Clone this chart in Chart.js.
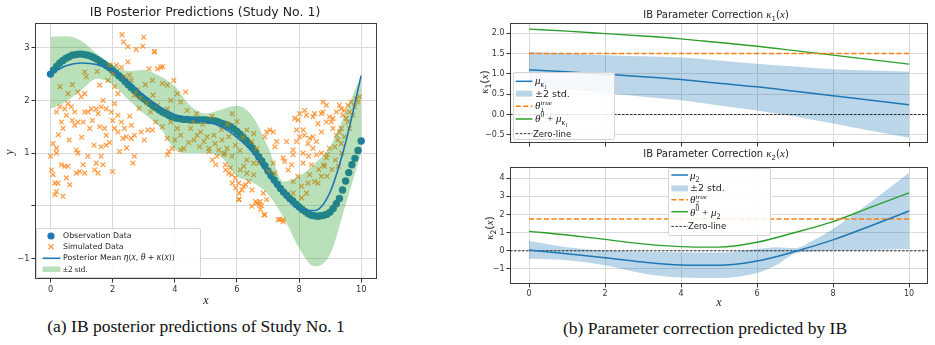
<!DOCTYPE html>
<html>
<head>
<meta charset="utf-8">
<title>IB posterior predictions and parameter correction</title>
<script src="https://cdn.jsdelivr.net/npm/chart.js@4.4.1/dist/chart.umd.min.js"></script>
<style>
  body { margin:0; background:#fff; }
  #wrap { position:relative; width:935px; height:345px; overflow:hidden; font-family:"DejaVu Sans",sans-serif; color:#222; background:#fff; }
  canvas { position:absolute; }
  .ttl { position:absolute; white-space:nowrap; transform:translateX(-50%); color:#222; }
  .m { font-family:"Liberation Serif",serif; font-style:italic; }
  .rot { position:absolute; white-space:nowrap; transform:translate(-50%,-50%) rotate(-90deg); }
  .cap { position:absolute; font-family:"Liberation Serif",serif; font-size:17.5px; white-space:nowrap; transform:translateX(-50%); color:#111; }
  .leg { position:absolute; background:rgba(255,255,255,0.85); border:1px solid #d4d4d4; border-radius:2px; }
  .leg svg { position:absolute; left:0; top:0; }
  .row { position:absolute; white-space:nowrap; transform:translateY(-50%); line-height:1; }
  sub, sup { font-size:70%; line-height:0; }
</style>
</head>
<body>
<div id="wrap">
  <canvas id="cA" width="382" height="300" style="left:0;top:0"></canvas>
  <canvas id="cB" width="462" height="150" style="left:470px;top:0"></canvas>
  <canvas id="cC" width="462" height="150" style="left:470px;top:160px"></canvas>

  <div class="ttl" style="left:205px;top:4px;font-size:12.5px">IB Posterior Predictions (Study No. 1)</div>
  <div class="ttl" style="left:716px;top:8px;font-size:10px">IB Parameter Correction <span class="m" style="font-size:11px">κ</span><sub>1</sub>(<span class="m" style="font-size:11px">x</span>)</div>
  <div class="ttl" style="left:716px;top:147px;font-size:10px">IB Parameter Correction <span class="m" style="font-size:11px">κ</span><sub>2</sub>(<span class="m" style="font-size:11px">x</span>)</div>

  <div class="ttl m" style="left:206px;top:293px;font-size:12px">x</div>
  <div class="rot m" style="left:9px;top:152px;font-size:12px">y</div>
  <div class="ttl m" style="left:719px;top:295px;font-size:12px">x</div>
  <div class="rot" style="left:484px;top:82px;font-size:11px"><span class="m">κ</span><sub>1</sub>(<span class="m">x</span>)</div>
  <div class="rot" style="left:489px;top:228px;font-size:11px"><span class="m">κ</span><sub>2</sub>(<span class="m">x</span>)</div>

  <div class="cap" style="left:196px;top:316px">(a) IB posterior predictions of Study No. 1</div>
  <div class="cap" style="left:705px;top:318px">(b) Parameter correction predicted by IB</div>

  <div class="leg" style="left:36px;top:228px;width:163px;height:48px;font-size:7.8px">
    <svg width="30" height="48">
      <circle cx="14" cy="7" r="3.6" fill="#1f77b4"/>
      <path d="M11.5 15.2 L16.5 20.2 M16.5 15.2 L11.5 20.2" stroke="rgba(255,127,14,0.8)" stroke-width="1.3"/>
      <line x1="5.5" y1="29.3" x2="23.5" y2="29.3" stroke="#1f77b4" stroke-width="1.6"/>
      <rect x="5.5" y="37.5" width="18" height="5.5" fill="rgba(44,160,44,0.33)"/>
    </svg>
    <div class="row" style="left:26px;top:7px">Observation Data</div>
    <div class="row" style="left:26px;top:17.7px">Simulated Data</div>
    <div class="row" style="left:26px;top:29.3px">Posterior Mean <span class="m" style="font-size:9.5px">η</span>(<span class="m" style="font-size:9.5px">x</span>, <span class="m" style="font-size:9.5px">θ</span> + <span class="m" style="font-size:9.5px">κ</span>(<span class="m" style="font-size:9.5px">x</span>))</div>
    <div class="row" style="left:26px;top:40.3px;font-family:'Liberation Serif',serif;font-size:9px">±2 std.</div>
  </div>

  <div class="leg" style="left:513px;top:72px;width:100px;height:66px;font-size:8.5px">
    <svg width="22" height="66">
      <line x1="1.7" y1="8.3" x2="18.4" y2="8.3" stroke="#1f77b4" stroke-width="1.5"/>
      <rect x="1.7" y="17.6" width="16.7" height="6" fill="rgba(31,119,180,0.3)"/>
      <line x1="1.7" y1="33.3" x2="18.4" y2="33.3" stroke="#ff7f0e" stroke-width="1.5" stroke-dasharray="5,2.5"/>
      <line x1="1.7" y1="46" x2="18.4" y2="46" stroke="#2ca02c" stroke-width="1.5"/>
      <line x1="1.7" y1="60.6" x2="18.4" y2="60.6" stroke="#000" stroke-width="0.8" stroke-dasharray="2.5,1.5"/>
    </svg>
    <div class="row m" style="left:21px;top:8.3px;font-size:11px">μ<sub>κ<sub>1</sub></sub></div>
    <div class="row" style="left:21px;top:20.6px;font-size:9.5px">±2 std.</div>
    <div class="row m" style="left:21px;top:33.3px;font-size:11px">θ<span style="display:inline-block;vertical-align:middle;line-height:0.9;font-size:65%"><span style="display:block">true</span><span style="display:block;font-style:normal">1</span></span></div>
    <div class="row m" style="left:21px;top:46px;font-size:11px">θ<sup style="font-style:normal">0</sup> <span style="font-style:normal">+</span> μ<sub>κ<sub>1</sub></sub></div>
    <div class="row" style="left:19px;top:60.6px">Zero-line</div>
  </div>

  <div class="leg" style="left:668px;top:168px;width:101px;height:66px;font-size:8.5px">
    <svg width="22" height="66">
      <line x1="2.4" y1="6" x2="19" y2="6" stroke="#1f77b4" stroke-width="1.5"/>
      <rect x="2.4" y="16.4" width="16.6" height="6" fill="rgba(31,119,180,0.3)"/>
      <line x1="2.4" y1="30.7" x2="19" y2="30.7" stroke="#ff7f0e" stroke-width="1.5" stroke-dasharray="5,2.5"/>
      <line x1="2.4" y1="42.7" x2="19" y2="42.7" stroke="#2ca02c" stroke-width="1.5"/>
      <line x1="2.4" y1="57.4" x2="19" y2="57.4" stroke="#000" stroke-width="0.8" stroke-dasharray="2.5,1.5"/>
    </svg>
    <div class="row m" style="left:21px;top:6px;font-size:11px">μ<sub style="font-style:normal">2</sub></div>
    <div class="row" style="left:21px;top:19.4px;font-size:9.5px">±2 std.</div>
    <div class="row m" style="left:21px;top:30.7px;font-size:11px">θ<span style="display:inline-block;vertical-align:middle;line-height:0.9;font-size:65%"><span style="display:block">true</span><span style="display:block;font-style:normal">2</span></span></div>
    <div class="row m" style="left:21px;top:42.7px;font-size:11px">θ<sup style="font-style:normal">0</sup> <span style="font-style:normal">+</span> μ<sub style="font-style:normal">2</sub></div>
    <div class="row" style="left:19px;top:57.4px">Zero-line</div>
  </div>
</div>

<script>
// ---- study 1 : observation data (x grid 0..10, step 0.1)
var obsX = [0,0.1,0.2,0.3,0.4,0.5,0.6,0.7,0.8,0.9,1,1.1,1.2,1.3,1.4,1.5,1.6,1.7,1.8,1.9,
  2,2.1,2.2,2.3,2.4,2.5,2.6,2.7,2.8,2.9,3,3.1,3.2,3.3,3.4,3.5,3.6,3.7,3.8,3.9,
  4,4.1,4.2,4.3,4.4,4.5,4.6,4.7,4.8,4.9,5,5.1,5.2,5.3,5.4,5.5,5.6,5.7,5.8,5.9,
  6,6.1,6.2,6.3,6.4,6.5,6.6,6.7,6.8,6.9,7,7.1,7.2,7.3,7.4,7.5,7.6,7.7,7.8,7.9,
  8,8.1,8.2,8.3,8.4,8.5,8.6,8.7,8.8,8.9,9,9.1,9.2,9.3,9.4,9.5,9.6,9.7,9.8,9.9,10];
var obsY = [2.50,2.58,2.65,2.71,2.76,2.80,2.83,2.86,2.87,2.88,2.88,2.87,2.86,2.84,2.81,2.78,2.74,2.70,2.66,2.62,
  2.57,2.52,2.47,2.42,2.36,2.30,2.24,2.19,2.13,2.08,2.03,1.99,1.94,1.90,1.86,1.82,1.78,1.75,1.72,1.69,
  1.67,1.66,1.65,1.64,1.64,1.63,1.63,1.63,1.63,1.63,1.63,1.62,1.62,1.61,1.59,1.57,1.55,1.53,1.50,1.46,
  1.41,1.36,1.30,1.24,1.17,1.10,1.02,0.93,0.85,0.76,0.66,0.57,0.49,0.41,0.33,0.26,0.20,0.14,0.09,0.03,
  -0.02,-0.07,-0.11,-0.15,-0.18,-0.19,-0.20,-0.19,-0.18,-0.16,-0.12,-0.05,0.04,0.14,0.30,0.47,0.63,0.78,0.90,1.05,1.23];

// ---- posterior mean and +-2 std band (x step 0.5)
var predX    = [0,0.5,1,1.5,2,2.5,3,3.5,4,4.5,5,5.5,6,6.5,7,7.5,8,8.5,9,9.5,10];
var predMean = [2.50,2.66,2.71,2.68,2.57,2.36,2.10,1.88,1.73,1.65,1.60,1.50,1.30,1.02,0.60,0.22,-0.06,-0.09,0.26,1.20,2.47];
var bandUp   = [3.21,3.22,3.13,2.88,2.68,2.56,2.58,2.47,2.27,1.90,1.75,1.83,1.90,1.70,1.12,0.46,0.56,0.80,1.12,1.78,2.47];
var bandLo   = [1.84,1.98,2.20,2.41,2.30,2.02,1.75,1.50,1.08,1.00,1.00,0.92,0.56,0.44,0.22,-0.22,-0.80,-1.15,-0.92,0.02,1.00];

// ---- simulated data [x, y]
var simulated = [
  [0.0,0.94],[0.19,1.0],[0.03,0.68],[0.08,0.59],[0.14,0.43],[0.24,0.43],[0.19,0.27],[0.14,0.21],[0.40,0.18],[0.35,0.78],
  [0.46,0.75],[0.56,0.75],[0.51,0.53],[0.62,0.40],[0.83,0.62],[0.94,0.65],[1.05,0.78],[1.10,0.62],[1.47,0.81],[1.42,0.68],
  [1.53,0.62],[1.69,0.78],[1.63,0.94],[2.0,0.65],[2.70,0.94],[2.65,0.81],[1.2,0.94],[0.88,1.0],[2.22,1.03],
  [0.08,1.18],[0.19,1.78],[0.30,1.88],[0.46,1.84],[0.56,1.94],[0.67,1.88],[0.51,1.72],[0.78,1.78],[0.88,1.59],[1.10,1.78],
  [1.21,1.78],[1.31,1.84],[1.47,1.84],[1.53,1.75],[1.63,1.88],[1.79,1.84],[1.96,1.78],[2.06,1.94],[2.17,1.72],[2.28,1.59],
  [2.38,1.47],[2.6,1.53],[2.70,1.34],[2.92,1.40],[3.13,1.44],[0.35,1.59],[0.40,1.47],[0.78,1.53],[1.05,1.59],[1.26,1.47],
  [1.58,1.50],[1.74,1.47],[1.79,1.34],[2.06,1.47],[2.17,1.40],[2.33,1.28],[2.44,1.31],[2.6,1.28],[3.02,1.25],[0.83,1.06],
  [1.63,1.12],[1.79,1.15],[0.19,1.09],[1.1,2.13],[0.99,2.07],[0.88,2.16],[0.56,2.13],[0.30,2.26],[1.15,2.45],[1.58,2.29],
  [2.17,2.13],[2.06,2.26],[1.85,2.38],[2.01,2.51],[2.12,2.67],[2.28,2.63],[2.38,2.45],[2.54,2.48],[2.6,2.38],[2.49,2.73],
  [1.9,2.67],[1.69,2.0],[1.10,2.54],[1.5,2.55],[0.7,2.3],
  [0.25,1.35],[0.6,1.25],[1.0,1.3],[1.4,1.15],[1.9,1.2],[2.45,1.1],[0.7,1.62],[1.35,1.62],[2.0,1.62],[2.55,1.7],
  [2.30,3.25],[2.35,3.11],[2.49,3.02],[2.76,2.97],[3.0,3.2],[2.97,3.03],[3.34,2.92],[3.61,2.64],
  [2.8,2.2],[2.9,2.05],[3.05,2.3],[2.7,2.1],[3.1,1.95],[3.3,2.1],[2.85,1.85],
  [3.35,2.93],[3.55,2.63],[3.44,2.60],[3.28,2.38],[3.17,2.60],[3.6,2.32],[3.76,2.29],[3.97,2.38],[4.35,2.16],[4.08,2.13],
  [3.87,2.0],[4.19,1.97],[4.40,1.81],[3.76,1.84],[3.44,1.91],[3.22,1.78],[3.38,1.59],[3.60,1.50],[3.28,1.44],[3.87,1.59],
  [4.08,1.47],[4.19,1.34],[3.76,1.28],[3.92,1.09],[4.51,1.47],[4.72,1.34],[4.83,1.40],[4.62,1.25],[4.94,1.22],[5.1,1.09],
  [4.29,1.09],[5.26,1.34],[5.52,1.25],[5.74,1.31],[5.95,1.15],[6.32,1.44],[6.54,1.37],[6.48,1.22],[6.64,1.09],[5.68,1.09],
  [5.42,1.06],[5.04,1.31],[4.6,1.6],[4.9,1.55],[5.2,1.7],[5.5,1.45],[5.7,1.55],[6.0,1.6],[6.2,1.3],[4.7,1.75],[5.85,1.75],
  [4.45,1.2],[4.8,1.12],[5.3,1.18],[5.6,1.0],[6.1,1.05],[4.0,1.25],
  [3.76,0.97],[3.81,1.03],[4.19,1.06],[5.1,1.03],[5.36,0.94],[5.63,0.78],[5.74,0.62],[5.84,0.59],[5.95,0.53],[6.06,0.43],
  [6.22,0.37],[6.16,0.30],[6.06,0.12],[6.38,0.46],[6.54,0.59],[6.48,-0.01],[6.64,0.05],[6.75,0.08],[6.32,0.62],[6.11,0.68],
  [6.32,0.87],[6.54,0.81],[6.70,0.81],[6.22,0.75],[5.79,0.72],[5.58,0.97],[5.84,0.94],
  [5.21,0.87],[5.32,0.78],[5.64,0.68],[5.85,0.43],[5.96,0.34],[6.07,0.24],[6.28,0.40],[6.49,0.30],[6.6,0.08],[6.71,0.02],
  [6.87,-0.17],[6.07,0.12],[6.76,-0.07],[7.33,-0.26],[7.49,-0.26],
  [6.85,0.24],[6.96,0.12],[6.9,-0.17],[6.79,0.0],[7.38,-0.26],[7.49,-0.30],[7.17,0.81],[7.54,0.84],[7.76,0.78],[7.65,0.68],
  [7.49,0.91],[7.81,0.97],[8.13,1.0],[8.13,0.81],[8.4,0.78],[8.56,0.97],[8.72,1.0],[8.88,0.91],[8.82,0.75],[8.61,0.43],
  [8.34,0.59],[8.29,0.43],[8.5,0.46],[8.72,0.56],[8.08,0.37],[7.81,0.24],[8.08,0.15],[7.81,0.46],[7.96,0.56],[8.24,0.24],
  [7.0,0.65],[7.22,0.62],
  [6.96,1.40],[7.06,1.44],[7.17,1.40],[6.90,1.31],[7.28,1.22],[7.6,1.22],[7.22,1.12],[7.86,1.66],[7.97,1.63],[8.02,1.75],
  [8.18,1.81],[8.24,1.72],[8.45,1.69],[8.5,1.75],[8.72,1.75],[8.77,1.78],[8.98,1.69],[8.88,1.59],[8.61,1.56],[8.13,1.44],
  [7.92,1.44],[8.02,1.31],[8.18,1.34],[8.34,1.28],[8.45,1.31],[8.56,1.22],[8.29,1.18],[8.72,1.40],[7.92,1.22],[7.81,1.06],
  [8.45,1.09],[9.04,1.59],[9.09,1.47],[9.2,1.34],[9.3,1.40],[9.25,1.25],[9.36,1.18],[9.46,1.31],[9.15,1.12],[8.98,1.09],
  [9.3,1.91],[9.36,1.84],[9.46,1.81],[9.57,1.91],[9.62,1.78],[9.52,1.66],[9.41,1.72],[9.68,1.97],[9.84,2.03],[9.89,1.97],
  [9.95,2.07],[9.79,1.88],[9.73,1.72],[9.57,1.59],[9.2,1.78],[9.09,1.66],[8.88,1.91],[8.77,1.97],[9.36,1.47],[9.62,1.47],
  [8.31,0.94],[8.63,0.69],[8.79,0.78],[8.9,0.97],[9.06,0.69],[8.9,0.56],[9.17,0.87],[9.27,0.75],[9.38,1.0]
];

// ---- kappa_1
var k1X     = [0,1,2,3,4,5,6,7,8,9,10];
var k1Mu    = [1.10,1.05,0.99,0.93,0.86,0.77,0.68,0.57,0.46,0.35,0.24];
var k1Up    = [1.54,1.50,1.46,1.43,1.40,1.33,1.25,1.18,1.11,1.08,1.05];
var k1Lo    = [0.66,0.61,0.53,0.44,0.35,0.22,0.10,-0.05,-0.22,-0.40,-0.57];
var k1Theta = [2.10,2.05,1.99,1.93,1.86,1.77,1.68,1.57,1.46,1.35,1.24];
var theta1True = 1.5;

// ---- kappa_2
var k2X     = [0,1,2,3,4,5,6,7,8,9,10];
var k2Mu    = [0.05,-0.16,-0.38,-0.62,-0.78,-0.80,-0.56,-0.04,0.60,1.38,2.19];
var k2Theta = [1.07,0.87,0.63,0.38,0.23,0.20,0.47,1.01,1.61,2.41,3.19];
var k2BandX = [0,1,2,3,4,5,6,6.5,7,7.5,8,9,10];
var k2Up    = [0.54,0.20,0.02,-0.05,-0.08,-0.10,0.10,0.20,0.15,0.60,1.20,2.70,4.30];
var k2Lo    = [-0.44,-0.52,-0.80,-1.25,-1.47,-1.50,-1.22,-0.80,-0.15,-0.02,0.02,0.05,0.10];
var theta2True = 1.75;

var xTicks = [0,2,4,6,8,10];

Chart.defaults.font.family = 'DejaVu Sans';
Chart.defaults.color = '#333';

var framePlugin = {
  id: 'frame',
  afterDraw: function(c) {
    var a = c.chartArea, ctx = c.ctx;
    ctx.save();
    ctx.strokeStyle = '#3c3c3c';
    ctx.lineWidth = 1;
    ctx.strokeRect(Math.round(a.left) + 0.5, Math.round(a.top) + 0.5,
                   Math.round(a.right - a.left) - 1, Math.round(a.bottom - a.top) - 1);
    ctx.restore();
  }
};

function pts(xs, ys) { return xs.map(function(x, i) { return {x: x, y: ys[i]}; }); }
function minus(v) { return (v < 0 ? '\u2212' : '') + Math.abs(v); }

function xAxis(min, max, h, show, fs) {
  return {
    type: 'linear', min: min, max: max,
    afterFit: function(s) { s.height = h; },
    afterBuildTicks: function(s) { s.ticks = xTicks.map(function(v) { return {value: v}; }); },
    grid: {color: '#d9d9d9', tickColor: '#333', tickLength: 3.5},
    border: {display: false},
    ticks: {display: show, font: {size: fs}, padding: 2, maxRotation: 0}
  };
}
function yAxis(min, max, w, ticks, fmt, fs) {
  return {
    type: 'linear', min: min, max: max,
    afterFit: function(s) { s.width = w; },
    afterBuildTicks: function(s) { s.ticks = ticks.map(function(v) { return {value: v}; }); },
    grid: {color: '#d9d9d9', tickColor: '#333', tickLength: 3.5},
    border: {display: false},
    ticks: {font: {size: fs}, padding: 2, callback: fmt}
  };
}
function line(data, color, width, dash, order, extra) {
  var d = {data: data, showLine: true, borderColor: color, borderWidth: width, borderDash: dash || [],
           pointRadius: 0, fill: false, order: order, cubicInterpolationMode: 'monotone'};
  for (var k in extra) d[k] = extra[k];
  return d;
}
function baseOptions(pad, scales) {
  return {
    responsive: false, animation: false, devicePixelRatio: 1,
    layout: {padding: pad},
    plugins: {legend: {display: false}, tooltip: {enabled: false}},
    scales: scales
  };
}

// ---- (a) posterior predictions
new Chart(document.getElementById('cA'), {
  type: 'scatter',
  data: {datasets: [
    {data: pts(obsX, obsY), pointStyle: 'circle', pointRadius: 3.7, backgroundColor: '#1f77b4', borderWidth: 0, order: 4},
    {data: simulated.map(function(p) { return {x: p[0], y: p[1]}; }), pointStyle: 'crossRot', pointRadius: 3.3,
     borderColor: 'rgba(255,127,14,0.75)', borderWidth: 1.3, order: 3},
    line(pts(predX, bandUp), 'transparent', 0, null, 1),
    line(pts(predX, bandLo), 'transparent', 0, null, 1, {fill: '-1', backgroundColor: 'rgba(44,160,44,0.33)'}),
    line(pts(predX, predMean), '#1f77b4', 1.6, null, 0)
  ]},
  options: baseOptions({top: 23, right: 4, left: 0, bottom: 0}, {
    x: xAxis(-0.5, 10.5, 21, true, 8.3),
    y: yAxis(-1.39, 3.47, 35, [-1, 0, 1, 2, 3], function(v) { return v === 0 ? '' : minus(v); }, 8.3)
  }),
  plugins: [framePlugin]
});

// ---- (b) kappa_1
new Chart(document.getElementById('cB'), {
  type: 'scatter',
  data: {datasets: [
    line(pts(k1X, k1Mu), '#1f77b4', 1.5, null, 0),
    line(pts(k1X, k1Up), 'transparent', 0, null, 2),
    line(pts(k1X, k1Lo), 'transparent', 0, null, 2, {fill: '-1', backgroundColor: 'rgba(31,119,180,0.3)'}),
    line([{x: 0, y: theta1True}, {x: 10, y: theta1True}], '#ff7f0e', 1.5, [5, 2.5], 1),
    line(pts(k1X, k1Theta), '#2ca02c', 1.4, null, 1),
    line([{x: -0.5, y: 0}, {x: 10.5, y: 0}], '#000', 0.8, [2.5, 1.5], 0)
  ]},
  options: baseOptions({top: 23, right: 4, left: 0, bottom: 0}, {
    x: xAxis(-0.5, 10.5, 7, false, 8),
    y: yAxis(-0.7, 2.25, 40, [-0.5, 0, 0.5, 1, 1.5, 2], function(v) {
      return (v < 0 ? '\u2212' : '') + Math.abs(v).toFixed(1); }, 8)
  }),
  plugins: [framePlugin]
});

// ---- (b) kappa_2
new Chart(document.getElementById('cC'), {
  type: 'scatter',
  data: {datasets: [
    line(pts(k2X, k2Mu), '#1f77b4', 1.5, null, 0),
    line(pts(k2BandX, k2Up), 'transparent', 0, null, 2),
    line(pts(k2BandX, k2Lo), 'transparent', 0, null, 2, {fill: '-1', backgroundColor: 'rgba(31,119,180,0.3)'}),
    line([{x: 0, y: theta2True}, {x: 10, y: theta2True}], '#ff7f0e', 1.5, [5, 2.5], 1),
    line(pts(k2X, k2Theta), '#2ca02c', 1.4, null, 1),
    line([{x: -0.5, y: 0}, {x: 10.5, y: 0}], '#000', 0.8, [2.5, 1.5], 0)
  ]},
  options: baseOptions({top: 5, right: 4, left: 0, bottom: 0}, {
    x: xAxis(-0.5, 10.5, 26, true, 8),
    y: yAxis(-1.83, 4.63, 40, [-1, 0, 1, 2, 3, 4], minus, 8)
  }),
  plugins: [framePlugin]
});
</script>
</body>
</html>
